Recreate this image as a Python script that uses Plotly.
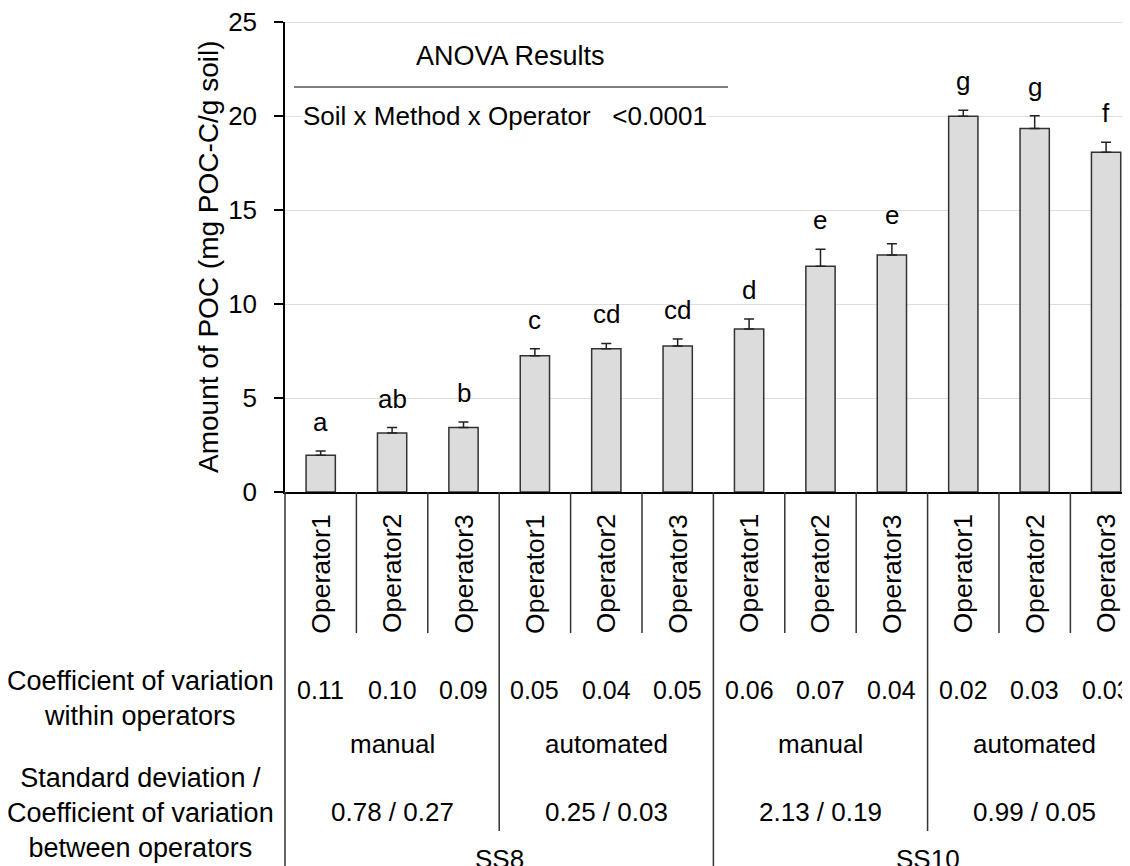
import plotly.graph_objects as go

# ---------------- data ----------------
operators = ["Operator1", "Operator2", "Operator3"] * 4
means = [1.95, 3.14, 3.43, 7.25, 7.62, 7.76, 8.67, 12.01, 12.61, 19.99, 19.34, 18.07]
errs = [0.23, 0.29, 0.30, 0.37, 0.28, 0.38, 0.53, 0.90, 0.60, 0.32, 0.67, 0.53]
letters = ["a", "ab", "b", "c", "cd", "cd", "d", "e", "e", "g", "g", "f"]
cv_within = ["0.11", "0.10", "0.09", "0.05", "0.04", "0.05",
             "0.06", "0.07", "0.04", "0.02", "0.03", "0.03"]
methods = ["manual", "automated", "manual", "automated"]
sd_cv_between = ["0.78 / 0.27", "0.25 / 0.03", "2.13 / 0.19", "0.99 / 0.05"]
soils = ["SS8", "SS10"]
y_ticks = [0, 5, 10, 15, 20, 25]
anova_title = "ANOVA Results"
anova_row = "Soil x Method x Operator\u00a0\u00a0\u00a0&lt;0.0001"
y_title = "Amount of POC (mg POC-C/g soil)"
row_label_1 = "Coefficient of variation<br>within operators"
row_label_2 = "Standard deviation /<br>Coefficient of variation<br>between operators"

# ---------------- layout constants ----------------
OFF = 8                    # page body margin
W, H = 1130 - OFF, 866 - OFF
PL, PT, PB = 285, 22, 492  # plot area edges in screen px
ML, MT = PL - OFF, PT - OFF
MB = H - (PB - OFF)
PH = PB - PT
X0, X1 = -0.5, 11.335
FONT = "Liberation Sans, Arial, sans-serif"
FS = 26

def yp(py):   # screen pixel y -> paper y
    return (PB - py) / PH

def xp(c):    # category coordinate -> paper x
    return (c - X0) / (X1 - X0)

def xpix(px): # screen pixel x -> paper x
    return (px - PL) / (1130 - PL)

n = len(means)
xs = list(range(n))

fig = go.Figure()
fig.add_trace(go.Bar(
    x=xs, y=means, width=0.41,
    marker=dict(color="#dcdcdc", line=dict(color="#333333", width=1.5)),
    error_y=dict(type="data", array=errs, arrayminus=[0] * n, symmetric=False,
                 color="#222222", thickness=1.5, width=5),
    hoverinfo="skip", showlegend=False,
))

def f(size=FS):
    return dict(size=size, color="black", family=FONT)

ann = []
for i in xs:
    ann.append(dict(x=i, y=means[i] + errs[i], xref="x", yref="y", text=letters[i],
                    showarrow=False, yanchor="bottom", yshift=12, font=f()))
for i in xs:
    ann.append(dict(x=i, y=yp(574), xref="x", yref="paper", text=operators[i],
                    showarrow=False, textangle=-90, xanchor="center", yanchor="middle",
                    font=f(26.5)))
for i in xs:
    ann.append(dict(x=i, y=yp(690), xref="x", yref="paper", text=cv_within[i],
                    showarrow=False, xanchor="center", yanchor="middle", font=f(25)))
for g in range(4):
    cx = g * 3 + 1
    ann.append(dict(x=cx, y=yp(744), xref="x", yref="paper", text=methods[g],
                    showarrow=False, xanchor="center", yanchor="middle", font=f()))
    ann.append(dict(x=cx, y=yp(812), xref="x", yref="paper", text=sd_cv_between[g],
                    showarrow=False, xanchor="center", yanchor="middle", font=f()))
for s in range(2):
    ann.append(dict(x=s * 6 + 2.5, y=yp(859), xref="x", yref="paper", text=soils[s],
                    showarrow=False, xanchor="center", yanchor="middle", font=f()))
ann.append(dict(x=xpix(140.5), y=yp(698), xref="paper", yref="paper", text=row_label_1,
                showarrow=False, xanchor="center", yanchor="middle", align="center",
                font=f(27)))
ann.append(dict(x=xpix(140.5), y=yp(813), xref="paper", yref="paper", text=row_label_2,
                showarrow=False, xanchor="center", yanchor="middle", align="center",
                font=f(27)))
ann.append(dict(x=xpix(208), y=0.5, xref="paper", yref="paper", text=y_title,
                showarrow=False, textangle=-90, xanchor="center", yanchor="middle",
                font=f(28)))
ann.append(dict(x=xpix(510), y=yp(56), xref="paper", yref="paper", text=anova_title,
                showarrow=False, xanchor="center", yanchor="middle", font=f(27)))
ann.append(dict(x=xpix(505), y=20, xref="paper", yref="y", text=anova_row,
                showarrow=False, xanchor="center", yanchor="middle", bgcolor="white",
                font=f()))

shapes = []
line_col = "#333333"
shapes.append(dict(type="line", xref="paper", yref="paper", x0=xpix(294), x1=xpix(728),
                   y0=yp(87), y1=yp(87), line=dict(color="black", width=1.2)))
shapes.append(dict(type="line", xref="paper", yref="paper", x0=xp(-0.5), x1=xp(-0.5),
                   y0=0, y1=yp(866), line=dict(color=line_col, width=1.5)))
for k in range(1, n + 1):
    b = k - 0.5
    if b > X1:
        continue
    if k % 6 == 0:
        y_end = 866
    elif k % 3 == 0:
        y_end = 831
    else:
        y_end = 633
    shapes.append(dict(type="line", xref="paper", yref="paper", x0=xp(b), x1=xp(b),
                       y0=0, y1=yp(y_end), line=dict(color=line_col, width=1.5)))

fig.update_layout(
    width=W, height=H, autosize=False,
    margin=dict(l=ML, r=0, t=MT, b=MB, pad=0),
    paper_bgcolor="white", plot_bgcolor="white",
    font=dict(family=FONT, size=FS, color="black"),
    annotations=ann, shapes=shapes,
    xaxis=dict(range=[X0, X1], showticklabels=False, ticks="", showgrid=False,
               zeroline=False, showline=True, linecolor="black", linewidth=1.5),
    yaxis=dict(range=[0, 25], tickvals=y_ticks, showgrid=True, gridcolor="#dedede",
               gridwidth=1, zeroline=False, showline=True, linecolor="black",
               linewidth=1.5, ticks="outside", ticklen=9, tickcolor="black",
               tickwidth=1.5, ticklabelstandoff=12, ticklabeloverflow="allow",
               tickfont=f()),
)
fig.add_shape(type="line", xref="paper", yref="y", x0=0, x1=1, y0=25, y1=25,
              line=dict(color="#bfbfbf", width=1))

fig.write_html("out.html")
